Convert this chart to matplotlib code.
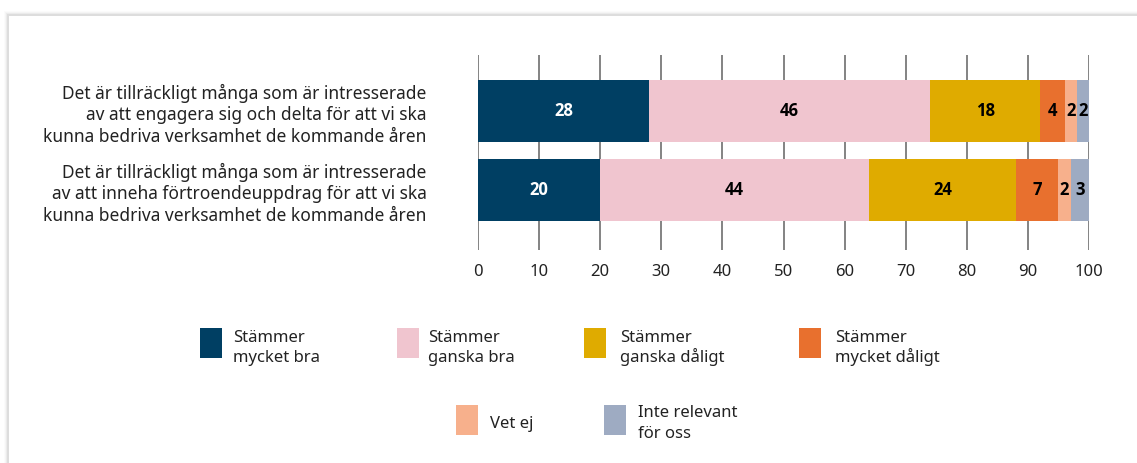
import matplotlib
matplotlib.use("Agg")
import matplotlib.pyplot as plt
from matplotlib.patches import Rectangle
import numpy as np

plt.rcParams['font.family'] = ['Noto Sans', 'DejaVu Sans']

categories = [
    "Det är tillräckligt många som är intresserade\nav att engagera sig och delta för att vi ska\nkunna bedriva verksamhet de kommande åren",
    "Det är tillräckligt många som är intresserade\nav att inneha förtroendeuppdrag för att vi ska\nkunna bedriva verksamhet de kommande åren",
]
series_names = ["Stämmer\nmycket bra", "Stämmer\nganska bra", "Stämmer\nganska dåligt",
                "Stämmer\nmycket dåligt", "Vet ej", "Inte relevant\nför oss"]
values = [
    [28, 20],
    [46, 44],
    [18, 24],
    [4, 7],
    [2, 2],
    [2, 3],
]
colors = ["#003f63", "#f0c5cf", "#dfab00", "#e8702e", "#f7b08c", "#9eabc2"]
label_colors = ["white", "black", "black", "black", "black", "black"]
xticks = [0, 10, 20, 30, 40, 50, 60, 70, 80, 90, 100]

W, H = 1137, 463
fig = plt.figure(figsize=(W / 100, H / 100), dpi=100)

# card shadow
for i, a in enumerate([0.015, 0.025, 0.04, 0.06]):
    off = 4 - i
    fig.add_artist(Rectangle(((8 - off) / W, 0), 1.2, (H - 15 + off) / H, transform=fig.transFigure,
                             facecolor="#000000", alpha=a, edgecolor="none", zorder=-3))
fig.add_artist(Rectangle((9 / W, 0), 1, (H - 16) / H, transform=fig.transFigure,
                         facecolor="white", edgecolor="none", zorder=-2))

ax = fig.add_axes([478 / W, 1 - 250 / H, (1089 - 478) / W, 195 / H])
ax.set_facecolor("none")
ax.set_zorder(1)

y = np.arange(len(categories))
left = np.zeros(len(categories))
for vals, c, lc in zip(values, colors, label_colors):
    vals = np.array(vals, dtype=float)
    ax.barh(y, vals, left=left, height=0.785, color=c, zorder=3)
    for yi, (l, v) in enumerate(zip(left, vals)):
        ax.text(l + v / 2, yi, f"{int(v)}", ha="center", va="center", color=lc,
                fontsize=12, fontweight="bold", family=["Open Sans", "DejaVu Sans"], zorder=4)
    left += vals

ax.set_xlim(0, 100)
ax.set_ylim(1.76, -0.709)
ax.set_xticks(xticks)
ax.set_xticklabels([str(t) for t in xticks], fontsize=12, color="#222222")
ax.tick_params(axis="x", length=0, pad=10)
ax.set_yticks(y)
ax.set_yticklabels(categories, fontsize=12.5, color="#222222", linespacing=1.25)
ax.tick_params(axis="y", length=0, pad=37)
for t in xticks:
    ax.axvline(t, color="#7a7a7a", lw=1.3, zorder=1)
for s in ax.spines.values():
    s.set_visible(False)

# legend (manual); text y = baseline of the first line, 20 px per line
leg_pos = [(200, 328), (397, 328), (584, 328), (799, 328), (456, 405), (604, 405)]
text_pos = [(233, 342), (428, 342), (620, 342), (835, 342), (490, 428), (638, 417)]
for (sx, sy), (tx, ty), name, c in zip(leg_pos, text_pos, series_names, colors):
    fig.add_artist(Rectangle((sx / W, 1 - (sy + 30) / H), 22 / W, 30 / H,
                             transform=fig.transFigure, facecolor=c, edgecolor="none", zorder=2))
    for k, line in enumerate(name.split("\n")):
        fig.text(tx / W, 1 - (ty + 20.5 * k) / H, line, ha="left", va="baseline", fontsize=12,
                 color="#222222", zorder=2)

fig.savefig("out.png", dpi=100)
